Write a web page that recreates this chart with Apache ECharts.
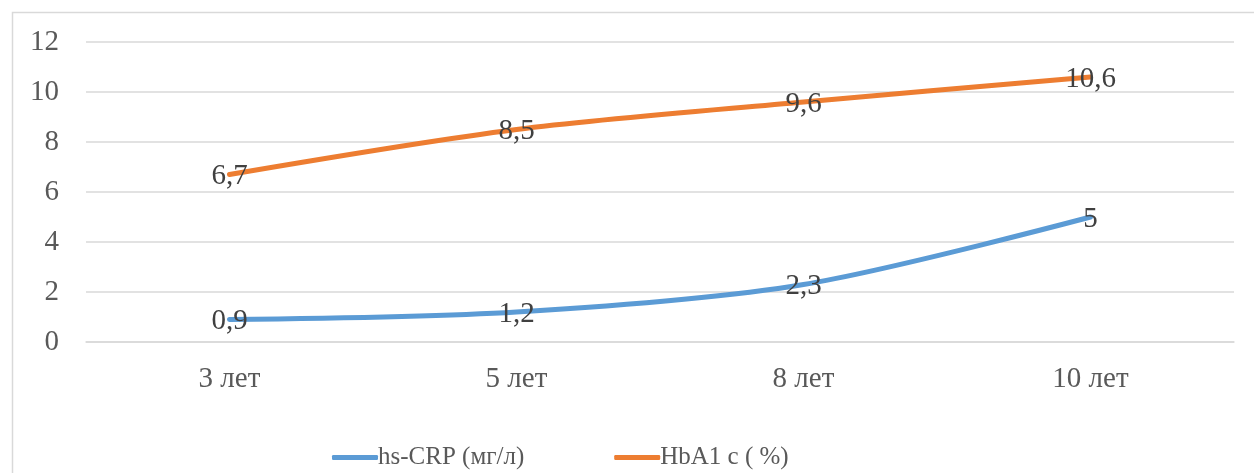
<!DOCTYPE html>
<html><head><meta charset="utf-8">
<script src="https://cdn.jsdelivr.net/npm/echarts@6/dist/echarts.min.js"></script>
<style>html,body{margin:0;padding:0;background:#fff;}#c{width:1254px;height:473px;}</style>
</head><body><div id="c"></div>
<script>
const categories = ['3 лет', '5 лет', '8 лет', '10 лет'];
const crpName = 'hs-CRP (мг/л)';
const hbaName = 'HbA1 c ( %)';
const crpValues = [0.9, 1.2, 2.3, 5];
const hbaValues = [6.7, 8.5, 9.6, 10.6];
const yTicks = {min: 0, max: 12, interval: 2};

const FONT = '"Liberation Serif", "Times New Roman", serif';
const chart = echarts.init(document.getElementById('c'));
const fmt = p => String(p.value).replace('.', ',');
function mk(name, data, color) {
  return {
    name, type: 'line', data, smooth: 0.3,
    symbol: 'circle', symbolSize: 1,
    itemStyle: {color},
    lineStyle: {color, width: 5, cap: 'round'},
    label: {show: true, position: 'inside', offset: [0, 2], formatter: fmt, color: '#404040', fontFamily: FONT, fontSize: 29},
    emphasis: {disabled: true}
  };
}
chart.setOption({
  animation: false,
  backgroundColor: '#fff',
  graphic: [{type: 'rect', shape: {x: 12.5, y: 12.5, width: 1300, height: 600}, style: {fill: 'none', stroke: '#d9d9d9', lineWidth: 1.5}, silent: true}],
  grid: {left: 86, right: 20, top: 42, bottom: 131},
  xAxis: {
    type: 'category', data: categories, boundaryGap: true,
    axisLine: {show: true, lineStyle: {color: '#d9d9d9', width: 1.5}},
    axisTick: {show: false},
    axisLabel: {color: '#595959', fontFamily: FONT, fontSize: 29, margin: 23}
  },
  yAxis: {
    type: 'value', min: yTicks.min, max: yTicks.max, interval: yTicks.interval,
    axisLine: {show: false}, axisTick: {show: false},
    splitLine: {lineStyle: {color: '#d9d9d9', width: 1.5}},
    axisLabel: {color: '#595959', fontFamily: FONT, fontSize: 29, margin: 27}
  },
  legend: {
    top: 440, left: 327, itemWidth: 46, itemHeight: 5, itemGap: 90,
    icon: 'roundRect',
    textStyle: {color: '#595959', fontFamily: FONT, fontSize: 25, padding: [0,0,0,-5]},
    data: [crpName, hbaName]
  },
  series: [mk(crpName, crpValues, '#5B9BD5'), mk(hbaName, hbaValues, '#ED7D31')]
});
</script></body></html>
